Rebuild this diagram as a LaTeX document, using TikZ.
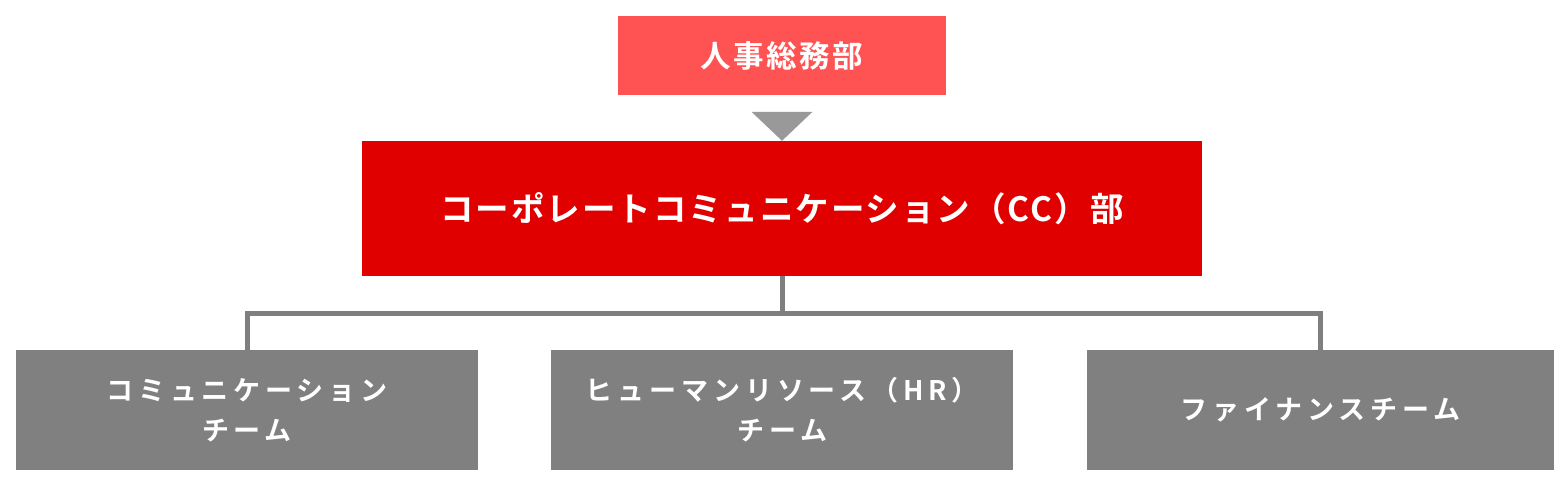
\documentclass[tikz,border=0pt]{standalone}
\usepackage{fontspec}
\usepackage{tikz}
\usetikzlibrary{positioning}

\newfontfamily\jpfont{Noto Sans CJK JP}[BoldFont={Noto Sans CJK JP Bold}]

\definecolor{hrred}{HTML}{FF5252}
\definecolor{ccred}{HTML}{E00000}
\definecolor{teamgray}{HTML}{808080}
\definecolor{linkgray}{HTML}{7F7F7F}
\definecolor{arrowgray}{HTML}{999999}

\begin{document}
\begin{tikzpicture}[x=1pt, y=-1pt,
        topdept/.style={rectangle, fill=hrred, text=white, inner sep=0pt, minimum width=328pt, minimum height=79pt, font=\jpfont\bfseries\fontsize{30.5}{36}\selectfont\addfontfeatures{LetterSpace=8}},
        ccdept/.style={rectangle, fill=ccred, text=white, inner sep=0pt, minimum width=840pt, minimum height=135pt, font=\jpfont\bfseries\fontsize{33.5}{40}\selectfont\addfontfeatures{LetterSpace=6}},
        team/.style={rectangle, fill=teamgray, text=white, inner sep=0pt, align=center, minimum width=462pt, minimum height=120pt, font=\jpfont\bfseries\fontsize{27}{40}\selectfont\addfontfeatures{LetterSpace=18}},
        link/.style={linkgray, line width=5pt, line join=miter}
      ]
        \useasboundingbox (0,0) rectangle (1568,484);

        \node[topdept] (hrga)     at (782,55.5)   {人事総務部};
        \node[ccdept]  (ccdept)   at (782,208.5)  {コーポレートコミュニケーション（CC）部};

        \node[team]    (commteam) at (247,410)    {コミュニケーション\\チーム};
        \node[team]    (hrteam)   [right=73pt of commteam]  {ヒューマンリソース（HR）\\チーム};
        \node[team, minimum width=467pt] (finteam) [right=73pt of hrteam]  {ファイナンスチーム};

        % arrow between departments
        \fill[arrowgray] ([xshift=-30.5pt, yshift=29pt]ccdept.north) -- ([xshift=30.5pt, yshift=29pt]ccdept.north) -- (ccdept.north) -- cycle;

        \coordinate (branch) at (782,313.5);
        \draw[link] (ccdept.south) -- (branch);
        \draw[link] (commteam.north) -- (commteam.north |- branch) -- (finteam.north |- branch) -- (finteam.north);
      \end{tikzpicture}
\end{document}
